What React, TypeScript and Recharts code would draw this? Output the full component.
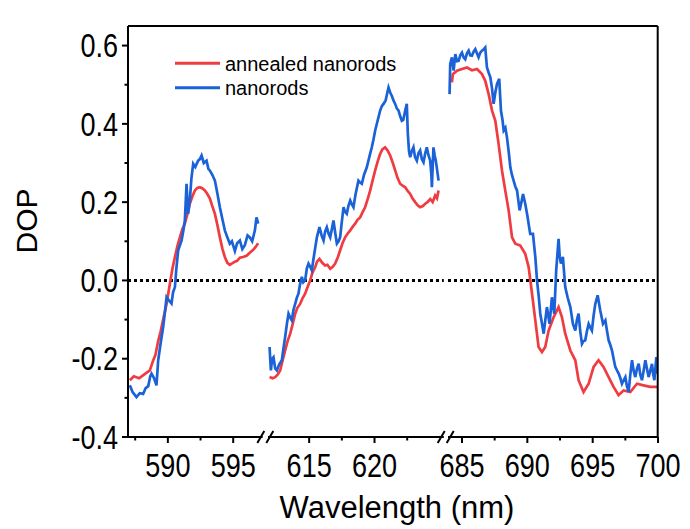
import React from 'react';
import { LineChart, Line, XAxis, YAxis, ReferenceLine } from 'recharts';

const FONT = '"Liberation Sans", Arial, Helvetica, sans-serif';
const RED = '#F03C41';
const BLUE = '#1B62D8';

const TOP = 26;
const BOTTOM = 437;
const LEFT = 128;
const RIGHT = 657.7;
const H = 529;
const PX_PER_NM = 13.07;
const SIDE = 32;
const TICK_FONT = 33;
const TICK_SX = 0.82;

// ---- axes ----
const yDomain = [-0.4, 0.65];
const yTicks = [-0.4, -0.3, -0.2, -0.1, 0, 0.1, 0.2, 0.3, 0.4, 0.5, 0.6];
const yMajor = [-0.4, -0.2, 0, 0.2, 0.4, 0.6];

const segDomains = [
  [586.95, 597.25],
  [611.85, 625.3],
  [683.93, 700],
];
const segTicks = [
  [587.5, 590, 592.5, 595],
  [615, 617.5, 620, 622.5],
  [685, 687.5, 690, 692.5, 695, 697.5, 700],
];
const xMajor = [590, 595, 615, 620, 685, 690, 695, 700];
const segLefts = [128, 268, 447.7];

// ---- data: annealed nanorods (red) ----
const annealedWl1 = [587.09, 587.4, 587.8, 588.2, 588.62, 588.87, 589.05, 589.26, 589.45, 589.64, 589.9, 590.15, 590.35, 590.54, 590.75, 590.92, 591.1, 591.3, 591.5, 591.68, 591.88, 592.07, 592.25, 592.45, 592.65, 592.83, 593.0, 593.21, 593.4, 593.6, 593.8, 593.98, 594.18, 594.36, 594.55, 594.74, 594.95, 595.13, 595.3, 595.51, 595.75, 596.02, 596.25, 596.53, 596.7, 596.91];
const annealedDop1 = [-0.255, -0.245, -0.25, -0.24, -0.23, -0.205, -0.19, -0.155, -0.13, -0.1, -0.06, -0.01, 0.03, 0.06, 0.09, 0.11, 0.13, 0.145, 0.17, 0.196, 0.215, 0.23, 0.236, 0.238, 0.235, 0.23, 0.222, 0.21, 0.19, 0.17, 0.14, 0.11, 0.08, 0.06, 0.045, 0.04, 0.044, 0.048, 0.05, 0.058, 0.06, 0.063, 0.07, 0.078, 0.085, 0.095];

const annealedWl2 = [611.97, 612.2, 612.4, 612.6, 612.78, 613.0, 613.16, 613.35, 613.55, 613.75, 613.93, 614.1, 614.31, 614.5, 614.69, 614.9, 615.08, 615.25, 615.46, 615.6, 615.79, 616.0, 616.22, 616.4, 616.61, 616.8, 616.99, 617.2, 617.37, 617.55, 617.75, 617.95, 618.14, 618.35, 618.52, 618.7, 618.9, 619.1, 619.28, 619.5, 619.67, 619.85, 620.05, 620.25, 620.43, 620.6, 620.81, 621.0, 621.2, 621.4, 621.58, 621.76, 621.96, 622.15, 622.35, 622.55, 622.73, 622.9, 623.11, 623.3, 623.49, 623.7, 623.88, 624.05, 624.26, 624.45, 624.64, 624.78, 624.9];
const annealedDop2 = [-0.247, -0.25, -0.247, -0.24, -0.23, -0.2, -0.179, -0.155, -0.136, -0.11, -0.085, -0.07, -0.06, -0.045, -0.034, -0.015, 0.0, 0.02, 0.034, 0.048, 0.055, 0.045, 0.038, 0.04, 0.03, 0.035, 0.043, 0.06, 0.077, 0.095, 0.11, 0.12, 0.128, 0.138, 0.145, 0.155, 0.161, 0.175, 0.187, 0.21, 0.23, 0.255, 0.281, 0.305, 0.323, 0.335, 0.34, 0.332, 0.319, 0.3, 0.281, 0.262, 0.247, 0.242, 0.238, 0.228, 0.221, 0.21, 0.2, 0.192, 0.187, 0.19, 0.196, 0.2, 0.208, 0.2, 0.217, 0.21, 0.23];

const annealedWl3 = [684.23, 684.3, 684.62, 685.0, 685.38, 685.77, 686.15, 686.53, 686.78, 687.04, 687.3, 687.55, 687.8, 688.06, 688.31, 688.57, 688.83, 689.08, 689.46, 689.84, 690.1, 690.36, 690.61, 690.86, 691.12, 691.37, 691.63, 692.01, 692.39, 692.65, 692.9, 693.29, 693.67, 693.92, 694.3, 694.69, 695.07, 695.45, 695.83, 696.22, 696.6, 696.98, 697.36, 697.88, 698.39, 698.89, 699.4, 699.92];
const annealedDop3 = [0.506, 0.527, 0.536, 0.54, 0.544, 0.537, 0.54, 0.527, 0.51, 0.476, 0.434, 0.408, 0.349, 0.281, 0.23, 0.179, 0.11, 0.094, 0.089, 0.068, 0.034, -0.034, -0.102, -0.17, -0.183, -0.17, -0.128, -0.094, -0.068, -0.094, -0.136, -0.179, -0.204, -0.255, -0.285, -0.264, -0.221, -0.204, -0.221, -0.247, -0.272, -0.293, -0.281, -0.285, -0.264, -0.268, -0.272, -0.272];

// ---- data: nanorods (blue) ----
const rodsWl1 = [587.09, 587.3, 587.6, 587.85, 588.11, 588.3, 588.5, 588.65, 588.75, 588.95, 589.13, 589.26, 589.45, 589.64, 589.78, 589.9, 590.05, 590.28, 590.4, 590.54, 590.65, 590.79, 591.05, 591.2, 591.3, 591.43, 591.55, 591.68, 591.8, 591.94, 592.1, 592.32, 592.45, 592.58, 592.75, 592.96, 593.1, 593.21, 593.4, 593.6, 593.8, 593.98, 594.15, 594.36, 594.55, 594.74, 594.9, 595.13, 595.3, 595.51, 595.7, 595.89, 596.1, 596.27, 596.45, 596.66, 596.78, 596.91];
const rodsDop1 = [-0.268, -0.285, -0.298, -0.288, -0.29, -0.275, -0.27, -0.245, -0.238, -0.25, -0.268, -0.204, -0.16, -0.119, -0.08, -0.043, -0.05, -0.059, -0.03, -0.017, 0.03, 0.077, 0.102, 0.13, 0.153, 0.247, 0.17, 0.204, 0.26, 0.298, 0.29, 0.306, 0.31, 0.319, 0.3, 0.306, 0.285, 0.281, 0.27, 0.255, 0.22, 0.187, 0.16, 0.128, 0.11, 0.094, 0.1, 0.075, 0.095, 0.102, 0.08, 0.09, 0.115, 0.11, 0.1, 0.128, 0.161, 0.145];

const rodsWl2 = [611.97, 612.07, 612.17, 612.27, 612.4, 612.53, 612.7, 612.91, 613.05, 613.16, 613.3, 613.42, 613.55, 613.67, 613.8, 613.93, 614.05, 614.18, 614.3, 614.44, 614.55, 614.69, 614.82, 614.95, 615.08, 615.2, 615.4, 615.59, 615.79, 615.95, 616.1, 616.22, 616.35, 616.48, 616.61, 616.73, 616.86, 617.0, 617.12, 617.25, 617.37, 617.5, 617.63, 617.75, 617.88, 618.0, 618.14, 618.26, 618.39, 618.55, 618.77, 618.9, 619.03, 619.2, 619.41, 619.6, 619.79, 619.92, 620.05, 620.25, 620.43, 620.56, 620.69, 620.85, 620.95, 621.07, 621.2, 621.32, 621.45, 621.58, 621.7, 621.84, 621.96, 622.09, 622.2, 622.35, 622.47, 622.55, 622.64, 622.73, 622.85, 622.98, 623.1, 623.24, 623.36, 623.49, 623.62, 623.75, 623.88, 624.0, 624.13, 624.26, 624.35, 624.39, 624.45, 624.51, 624.6, 624.69, 624.8, 624.9];
const rodsDop2 = [-0.17, -0.23, -0.2, -0.196, -0.225, -0.23, -0.215, -0.204, -0.17, -0.145, -0.11, -0.085, -0.095, -0.102, -0.075, -0.06, -0.045, -0.034, -0.01, 0.009, -0.005, 0.0, 0.03, 0.043, 0.035, 0.026, 0.07, 0.11, 0.136, 0.115, 0.102, 0.125, 0.136, 0.12, 0.11, 0.13, 0.153, 0.12, 0.094, 0.1, 0.11, 0.15, 0.187, 0.175, 0.17, 0.19, 0.204, 0.195, 0.187, 0.22, 0.255, 0.25, 0.247, 0.27, 0.289, 0.315, 0.34, 0.36, 0.383, 0.41, 0.434, 0.445, 0.451, 0.46, 0.475, 0.493, 0.48, 0.472, 0.46, 0.451, 0.44, 0.434, 0.42, 0.408, 0.41, 0.434, 0.451, 0.374, 0.33, 0.315, 0.33, 0.34, 0.315, 0.306, 0.325, 0.332, 0.31, 0.302, 0.325, 0.34, 0.32, 0.306, 0.27, 0.238, 0.29, 0.34, 0.32, 0.306, 0.28, 0.255];

const rodsWl3 = [684.05, 684.1, 684.23, 684.36, 684.49, 684.62, 684.74, 684.87, 685.0, 685.12, 685.25, 685.38, 685.51, 685.63, 685.76, 685.9, 686.02, 686.15, 686.27, 686.4, 686.53, 686.65, 686.78, 686.91, 687.05, 687.17, 687.3, 687.42, 687.55, 687.68, 687.85, 687.98, 688.1, 688.19, 688.32, 688.44, 688.57, 688.7, 688.82, 688.95, 689.08, 689.21, 689.41, 689.55, 689.67, 689.84, 690.02, 690.12, 690.22, 690.43, 690.61, 690.74, 690.87, 690.99, 691.12, 691.25, 691.38, 691.5, 691.6, 691.7, 691.88, 692.06, 692.21, 692.39, 692.48, 692.57, 692.72, 692.9, 693.08, 693.29, 693.49, 693.67, 693.8, 693.92, 694.05, 694.18, 694.3, 694.43, 694.56, 694.69, 694.81, 694.94, 695.07, 695.2, 695.38, 695.58, 695.79, 695.97, 696.1, 696.22, 696.35, 696.48, 696.6, 696.73, 696.86, 696.99, 697.12, 697.24, 697.37, 697.5, 697.62, 697.75, 697.88, 698.01, 698.13, 698.26, 698.39, 698.52, 698.64, 698.77, 698.9, 699.03, 699.15, 699.28, 699.41, 699.54, 699.63, 699.72, 699.87, 699.97];
const rodsDop3 = [0.476, 0.553, 0.57, 0.536, 0.578, 0.56, 0.561, 0.575, 0.582, 0.57, 0.565, 0.58, 0.587, 0.575, 0.574, 0.585, 0.591, 0.58, 0.57, 0.582, 0.587, 0.59, 0.595, 0.544, 0.53, 0.519, 0.49, 0.451, 0.48, 0.502, 0.515, 0.434, 0.41, 0.383, 0.39, 0.366, 0.33, 0.289, 0.27, 0.255, 0.24, 0.23, 0.179, 0.2, 0.221, 0.196, 0.162, 0.14, 0.119, 0.119, 0.06, 0.0, -0.04, -0.085, -0.11, -0.136, -0.1, -0.068, -0.09, -0.111, -0.043, -0.085, 0.026, 0.106, 0.06, 0.043, 0.06, -0.017, -0.043, -0.068, -0.111, -0.128, -0.1, -0.085, -0.13, -0.162, -0.155, -0.153, -0.13, -0.111, -0.12, -0.128, -0.09, -0.06, -0.038, -0.077, -0.111, -0.102, -0.13, -0.153, -0.165, -0.179, -0.2, -0.221, -0.23, -0.238, -0.25, -0.264, -0.255, -0.247, -0.27, -0.285, -0.24, -0.204, -0.23, -0.247, -0.225, -0.213, -0.24, -0.255, -0.23, -0.204, -0.225, -0.247, -0.23, -0.213, -0.24, -0.255, -0.196, -0.238];

const zip = (wl: number[], dop: number[]) => wl.map((w, i) => ({ w, v: dop[i] }));

const redData = [zip(annealedWl1, annealedDop1), zip(annealedWl2, annealedDop2), zip(annealedWl3, annealedDop3)];
const blueData = [zip(rodsWl1, rodsDop1), zip(rodsWl2, rodsDop2), zip(rodsWl3, rodsDop3)];

const near = (list: number[], v: number) => list.some((m) => Math.abs(m - v) < 1e-6);

function XTick(props: any) {
  const { x, payload } = props;
  const v = payload.value;
  const major = near(xMajor, v);
  return (
    <g>
      <line x1={x} x2={x} y1={BOTTOM} y2={BOTTOM + (major ? 6 : 3.5)} stroke="#000" strokeWidth={2} />
      {major && (
        <text
          transform={`translate(${x},477) scale(${TICK_SX},1)`}
          textAnchor="middle"
          fontFamily={FONT}
          fontSize={TICK_FONT}
          fill="#000"
        >
          {v}
        </text>
      )}
    </g>
  );
}

function YTick(props: any) {
  const { y, payload } = props;
  const v = payload.value;
  const major = near(yMajor, v);
  return (
    <g>
      <line x1={LEFT} x2={LEFT - (major ? 6 : 3.5)} y1={y} y2={y} stroke="#000" strokeWidth={2} />
      {major && (
        <text
          transform={`translate(${LEFT - 10},${y}) scale(${TICK_SX},1)`}
          dy="0.355em"
          textAnchor="end"
          fontFamily={FONT}
          fontSize={TICK_FONT}
          fill="#000"
        >
          {Number(v).toFixed(1)}
        </text>
      )}
    </g>
  );
}

function BreakMark({ cx }: { cx: number }) {
  return (
    <g stroke="#000" strokeWidth={2}>
      <line x1={cx - 8} y1={BOTTOM + 6} x2={cx - 1} y2={BOTTOM - 6} />
      <line x1={cx + 1} y1={BOTTOM + 6} x2={cx + 8} y2={BOTTOM - 6} />
    </g>
  );
}

export default function App() {
  return (
    <div style={{ position: 'absolute', left: 0, top: 0, width: 690, height: 529, background: '#fff' }}>
      {segDomains.map((dom, i) => {
        const w = (dom[1] - dom[0]) * PX_PER_NM;
        const isFirst = i === 0;
        const mLeft = isFirst ? 0 : SIDE;
        const mRight = SIDE;
        const chartLeft = isFirst ? 0 : segLefts[i] - SIDE;
        const width = (isFirst ? LEFT : 0) + mLeft + w + mRight;
        return (
          <div key={i} style={{ position: 'absolute', left: chartLeft, top: 0 }}>
            <LineChart width={width} height={H} margin={{ top: TOP, right: mRight, bottom: 0, left: mLeft }}>
              <XAxis
                type="number"
                dataKey="w"
                domain={dom}
                allowDataOverflow
                ticks={segTicks[i]}
                interval={0}
                tick={XTick}
                tickLine={false}
                axisLine={{ stroke: '#000', strokeWidth: 2 }}
                height={H - BOTTOM}
              />
              <YAxis
                type="number"
                domain={yDomain}
                allowDataOverflow
                ticks={yTicks}
                interval={0}
                hide={!isFirst}
                width={LEFT}
                tick={YTick}
                tickLine={false}
                axisLine={{ stroke: '#000', strokeWidth: 2 }}
              />
              <ReferenceLine y={0} stroke="#000" strokeWidth={3} strokeDasharray="3 3" />
              <Line
                data={redData[i]}
                dataKey="v"
                type="linear"
                stroke={RED}
                strokeWidth={2.7}
                dot={false}
                isAnimationActive={false}
              />
              <Line
                data={blueData[i]}
                dataKey="v"
                type="linear"
                stroke={BLUE}
                strokeWidth={2.7}
                dot={false}
                isAnimationActive={false}
              />
            </LineChart>
          </div>
        );
      })}
      <svg
        width={690}
        height={529}
        style={{ position: 'absolute', left: 0, top: 0, pointerEvents: 'none' }}
      >
        <line x1={LEFT} y1={TOP} x2={RIGHT} y2={TOP} stroke="#000" strokeWidth={2} />
        <line x1={RIGHT} y1={TOP} x2={RIGHT} y2={BOTTOM} stroke="#000" strokeWidth={2} />
        <BreakMark cx={265.3} />
        <BreakMark cx={445.7} />
        <line x1={175} y1={63.3} x2={220} y2={63.3} stroke={RED} strokeWidth={3} />
        <text x={225} y={71} fontFamily={FONT} fontSize={20} fill="#000">annealed nanorods</text>
        <line x1={175} y1={87.7} x2={220} y2={87.7} stroke={BLUE} strokeWidth={3} />
        <text x={225} y={95} fontFamily={FONT} fontSize={20} fill="#000">nanorods</text>
        <text transform="translate(37,221) rotate(-90)" textAnchor="middle" fontFamily={FONT} fontSize={30} fill="#000">
          DOP
        </text>
        <text x={397} y={518} textAnchor="middle" fontFamily={FONT} fontSize={31} fill="#000">
          Wavelength (nm)
        </text>
      </svg>
    </div>
  );
}
